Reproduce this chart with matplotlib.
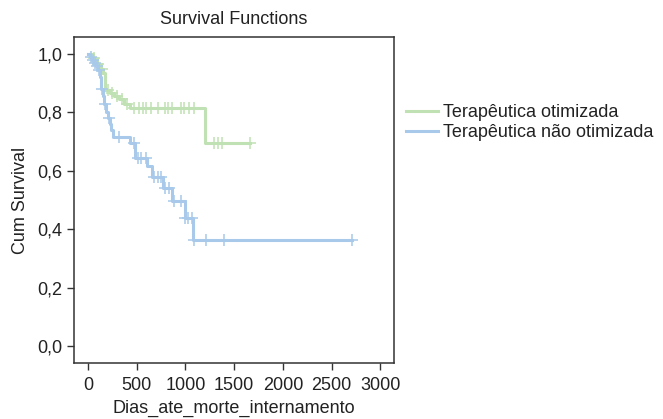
import numpy as np
import matplotlib.pyplot as plt

plt.rcParams['font.family'] = ['Liberation Sans Narrow', 'Liberation Sans', 'DejaVu Sans']

# Kaplan-Meier steps: event times (days) and survival after each event
t_opt = [0, 50, 90, 130, 150, 175, 230, 270, 320, 370, 430, 1200]
s_opt = [1.0, 0.985, 0.965, 0.95, 0.935, 0.875, 0.865, 0.855, 0.845, 0.83, 0.815, 0.695]
end_opt = 1665
cens_opt = [60, 100, 140, 200, 250, 300, 350, 400, 470, 520, 560, 600, 650, 720,
            790, 820, 860, 950, 990, 1040, 1090, 1290, 1330, 1370, 1665]

t_nopt = [0, 20, 40, 60, 80, 100, 125, 135, 150, 160, 185, 205, 225, 240, 260,
          430, 480, 610, 655, 770, 860, 995, 1080]
s_nopt = [1.0, 0.99, 0.98, 0.97, 0.96, 0.945, 0.92, 0.88, 0.855, 0.83, 0.80, 0.78,
          0.76, 0.74, 0.716, 0.695, 0.645, 0.615, 0.58, 0.54, 0.495, 0.44, 0.363]
end_nopt = 2710
cens_nopt = [30, 50, 70, 90, 110, 145, 170, 215, 320, 470, 510, 540, 590, 680, 720,
             750, 790, 830, 880, 950, 1000, 1030, 1070, 1090, 1210, 1400, 2710]

labels = ['Terapêutica otimizada', 'Terapêutica não otimizada']
colors = ['#c0e1b3', '#a8c9ea']

fig = plt.figure(figsize=(6.63, 4.19), dpi=100)
ax = fig.add_axes([0.1116, 0.1337, 0.4826, 0.778])

def km(ax, times, surv, end, cens, color, label):
    times = np.array(times + [end], dtype=float)
    surv = np.array(surv + [surv[-1]])
    ax.step(times, surv, where='post', color=color, lw=2.2, label=label)
    cens = np.array(cens, dtype=float)
    idx = np.searchsorted(times, cens, side='right') - 1
    ax.plot(cens, surv[idx], ls='none', marker='+', ms=9, mew=1.1, color=color)

km(ax, t_opt, s_opt, end_opt, cens_opt, colors[0], labels[0])
km(ax, t_nopt, s_nopt, end_nopt, cens_nopt, colors[1], labels[1])

ax.set_xlim(-144, 3140)
ax.set_ylim(-0.058, 1.058)
ax.set_xticks(np.arange(0, 3001, 500))
yt = np.arange(0, 1.01, 0.2)
ax.set_yticks(yt)
ax.set_yticklabels([f'{v:.1f}'.replace('.', ',') for v in yt])
ax.tick_params(direction='out', length=5, width=1, colors='#333333',
               labelsize=13, labelcolor='#222222', top=False, right=False)
ax.tick_params(axis='x', pad=5)
for sp in ax.spines.values():
    sp.set_color('#333333')
    sp.set_linewidth(1.1)

ax.set_title('Survival Functions', fontsize=13, color='#222222', pad=9)
ax.set_xlabel('Dias_ate_morte_internamento', fontsize=13, color='#222222', labelpad=4)
ax.set_ylabel('Cum Survival', fontsize=13, color='#222222', labelpad=6)

fig.legend(loc='upper left', bbox_to_anchor=(0.613, 0.751), frameon=False,
           fontsize=13, handlelength=1.75, handletextpad=0.3, labelspacing=0.15,
           borderaxespad=0, borderpad=0, labelcolor='#222222')

fig.savefig('out.png', dpi=100)
